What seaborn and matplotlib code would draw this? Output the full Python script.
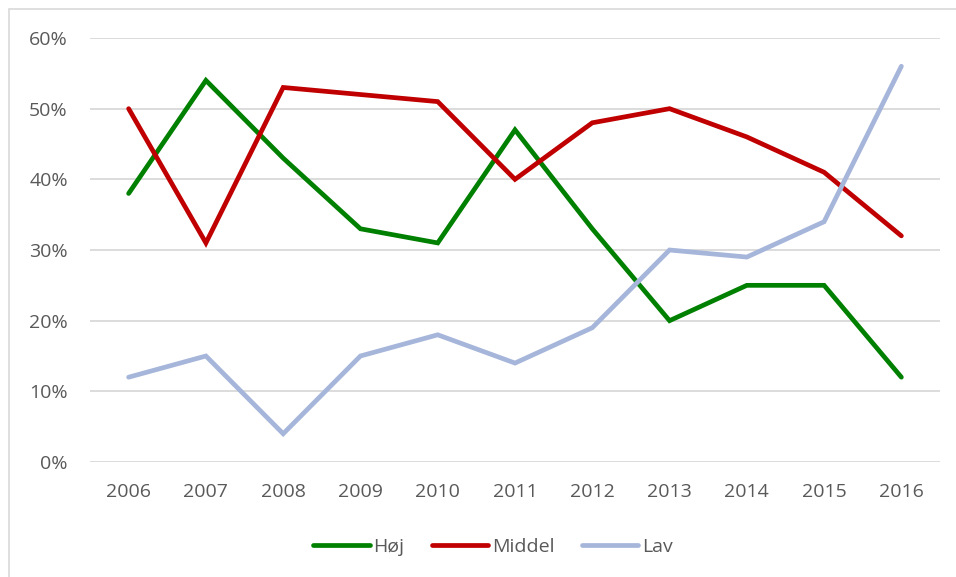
import matplotlib
matplotlib.use("Agg")
import matplotlib.pyplot as plt
import seaborn as sns
import pandas as pd
from matplotlib.patches import Rectangle
from matplotlib.ticker import FuncFormatter

years = [2006, 2007, 2008, 2009, 2010, 2011, 2012, 2013, 2014, 2015, 2016]
hoej = [38, 54, 43, 33, 31, 47, 33, 20, 25, 25, 12]
middel = [50, 31, 53, 52, 51, 40, 48, 50, 46, 41, 32]
lav = [12, 15, 4, 15, 18, 14, 19, 30, 29, 34, 56]
series_names = ["Høj", "Middel", "Lav"]
colors = ["#008000", "#C00000", "#A6B5DA"]

df = pd.concat([
    pd.DataFrame({"År": years, "Andel": vals, "Niveau": name})
    for name, vals in zip(series_names, [hoej, middel, lav])
])

sns.set_theme(style="white")
plt.rcParams["font.family"] = ["Open Sans", "DejaVu Sans"]

fig = plt.figure(figsize=(9.56, 5.77), dpi=100)
ax = fig.add_axes([90/956, 1-462/577, 850/956, 424/577])

# outer chart border
fig.patches.append(Rectangle((9/956, -0.1), 1.2, 1.1 - 9/577, transform=fig.transFigure,
                             fill=False, edgecolor="#D9D9D9", linewidth=1.2))

sns.lineplot(data=df, x="År", y="Andel", hue="Niveau", palette=colors,
             hue_order=series_names, linewidth=3.4, ax=ax, legend=True)
for line in ax.lines:
    line.set_solid_capstyle("round")
    line.set_solid_joinstyle("miter")

ax.set_xlim(2005.5, 2016.5)
ax.set_ylim(0, 60)
ax.set_yticks(range(0, 61, 10))
ax.set_xticks(years)
ax.yaxis.set_major_formatter(FuncFormatter(lambda v, p: f"{int(v)}%"))
ax.grid(axis="y", color="#D9D9D9", linewidth=1.3)
ax.set_axisbelow(True)
for s in ax.spines.values():
    s.set_visible(False)
ax.set_xlabel("")
ax.set_ylabel("")
ax.tick_params(axis="both", length=0, labelsize=14, labelcolor="#595959")
ax.tick_params(axis="y", pad=16)
ax.tick_params(axis="x", pad=15)

handles, labels = ax.get_legend_handles_labels()
ax.legend(handles, labels, loc="center", bbox_to_anchor=(493/956, 1-547/577),
          bbox_transform=fig.transFigure, ncol=3, frameon=False, fontsize=14,
          handlelength=2.9, handletextpad=0.2, columnspacing=1.4,
          labelcolor="#595959")
for lh in ax.get_legend().get_lines():
    lh.set_linewidth(3.4)
    lh.set_solid_capstyle("round")

fig.savefig("out.png", dpi=100)
